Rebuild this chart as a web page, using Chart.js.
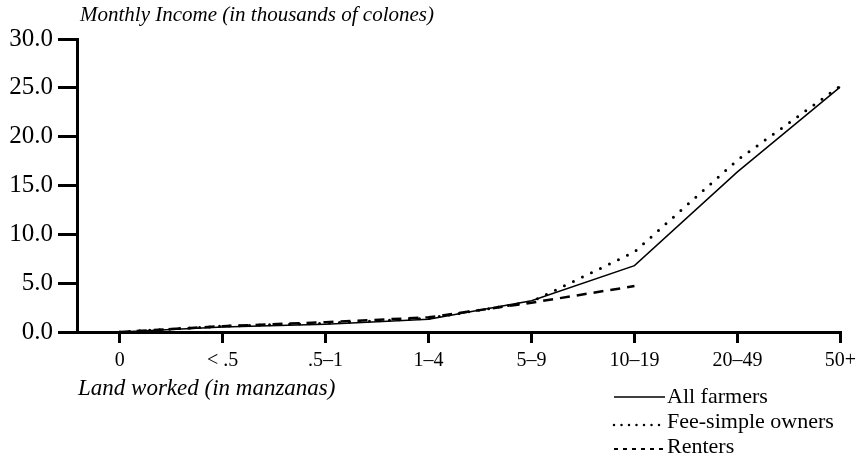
<!DOCTYPE html>
<html>
<head>
<meta charset="utf-8">
<script src="https://cdn.jsdelivr.net/npm/chart.js@4"></script>
<style>
  html, body { margin: 0; padding: 0; background: #fff; }
  #wrap { width: 862px; height: 462px; }
</style>
</head>
<body>
<div id="wrap"><canvas id="myChart" width="862" height="462"></canvas></div>
<script>
// categories (land worked, manzanas)
const landLabels = ['0', '< .5', '.5\u20131', '1\u20134', '5\u20139', '10\u201319', '20\u201349', '50+'];
// monthly income, thousands of colones
const allFarmers = [0.0, 0.5, 0.8, 1.3, 3.2, 6.8, 16.4, 25.1];
const feeSimple = [0.0, 0.6, 0.9, 1.4, 3.1, 8.2, 17.6, 25.2];
const renters = [0.0, 0.6, 1.0, 1.5, 3.0, 4.7];
const yTicks = [0, 5, 10, 15, 20, 25, 30];

const serif = "'Liberation Serif', 'DejaVu Serif', serif";

function toPoints(arr) {
  return arr.map(function(v, i) { return { x: i, y: v }; });
}

// draws axis titles + the little legend in the corner
const textPlugin = {
  id: 'textPlugin',
  afterDraw(chart) {
    const ctx = chart.ctx;
    ctx.save();
    ctx.fillStyle = '#000';
    ctx.textBaseline = 'middle';
    ctx.font = 'italic 21px ' + serif;
    ctx.fillText('Monthly Income (in thousands of colones)', 80, 15);
    ctx.font = 'italic 23px ' + serif;
    ctx.fillText('Land worked (in manzanas)', 78, 389);

    const items = [
      { label: 'All farmers', dash: [], width: 1.5, cap: 'butt', dy: 0 },
      { label: 'Fee-simple owners', dash: [0, 7.5], width: 2.5, cap: 'round', dy: 3 },
      { label: 'Renters', dash: [4, 5], width: 1.8, cap: 'butt', dy: 2 }
    ];
    ctx.font = '22px ' + serif;
    items.forEach(function(it, i) {
      const y = 397 + i * 25;
      ctx.beginPath();
      ctx.setLineDash(it.dash);
      ctx.lineWidth = it.width;
      ctx.lineCap = it.cap;
      ctx.strokeStyle = '#000';
      ctx.moveTo(614, y + it.dy);
      ctx.lineTo(665, y + it.dy);
      ctx.stroke();
      ctx.setLineDash([]);
      ctx.fillText(it.label, 667, y);
    });
    ctx.restore();
  }
};

const data = {
  datasets: [{
    label: 'All farmers',
    data: toPoints(allFarmers),
    borderColor: '#000',
    borderWidth: 1.5,
    pointRadius: 0,
    tension: 0
  }, {
    label: 'Fee-simple owners',
    data: toPoints(feeSimple),
    borderColor: '#000',
    borderWidth: 3,
    borderDash: [0, 10],
    borderCapStyle: 'round',
    pointRadius: 0,
    tension: 0
  }, {
    label: 'Renters',
    data: toPoints(renters),
    borderColor: '#000',
    borderWidth: 2.5,
    borderDash: [10, 7],
    pointRadius: 0,
    tension: 0
  }]
};

const config = {
  type: 'line',
  data,
  options: {
    responsive: false,
    animation: false,
    layout: { padding: { top: 39, right: 16, left: 0, bottom: 0 } },
    plugins: {
      legend: { display: false },
      tooltip: { enabled: false }
    },
    scales: {
      x: {
        type: 'linear',
        min: -0.415,
        max: 7,
        afterBuildTicks: function(scale) {
          scale.ticks = landLabels.map(function(l, i) { return { value: i }; });
        },
        afterFit: function(scale) { scale.height = 130; },
        ticks: {
          callback: function(v) { return landLabels[v]; },
          color: '#000',
          font: { family: serif, size: 20 },
          padding: 6,
          maxRotation: 0
        },
        grid: {
          drawOnChartArea: false,
          tickLength: 11,
          tickColor: '#000',
          lineWidth: 3
        },
        border: { color: '#000', width: 3 }
      },
      y: {
        min: 0,
        max: 30,
        afterBuildTicks: function(scale) {
          scale.ticks = yTicks.map(function(v) { return { value: v }; });
        },
        afterFit: function(scale) { scale.width = 77; },
        ticks: {
          callback: function(v) { return v.toFixed(1); },
          color: '#000',
          font: { family: serif, size: 25 },
          padding: 5
        },
        grid: {
          drawOnChartArea: false,
          tickLength: 19,
          tickColor: '#000',
          lineWidth: 3
        },
        border: { color: '#000', width: 3 }
      }
    }
  },
  plugins: [textPlugin]
};

const myChart = new Chart(document.getElementById('myChart'), config);
</script>
</body>
</html>
